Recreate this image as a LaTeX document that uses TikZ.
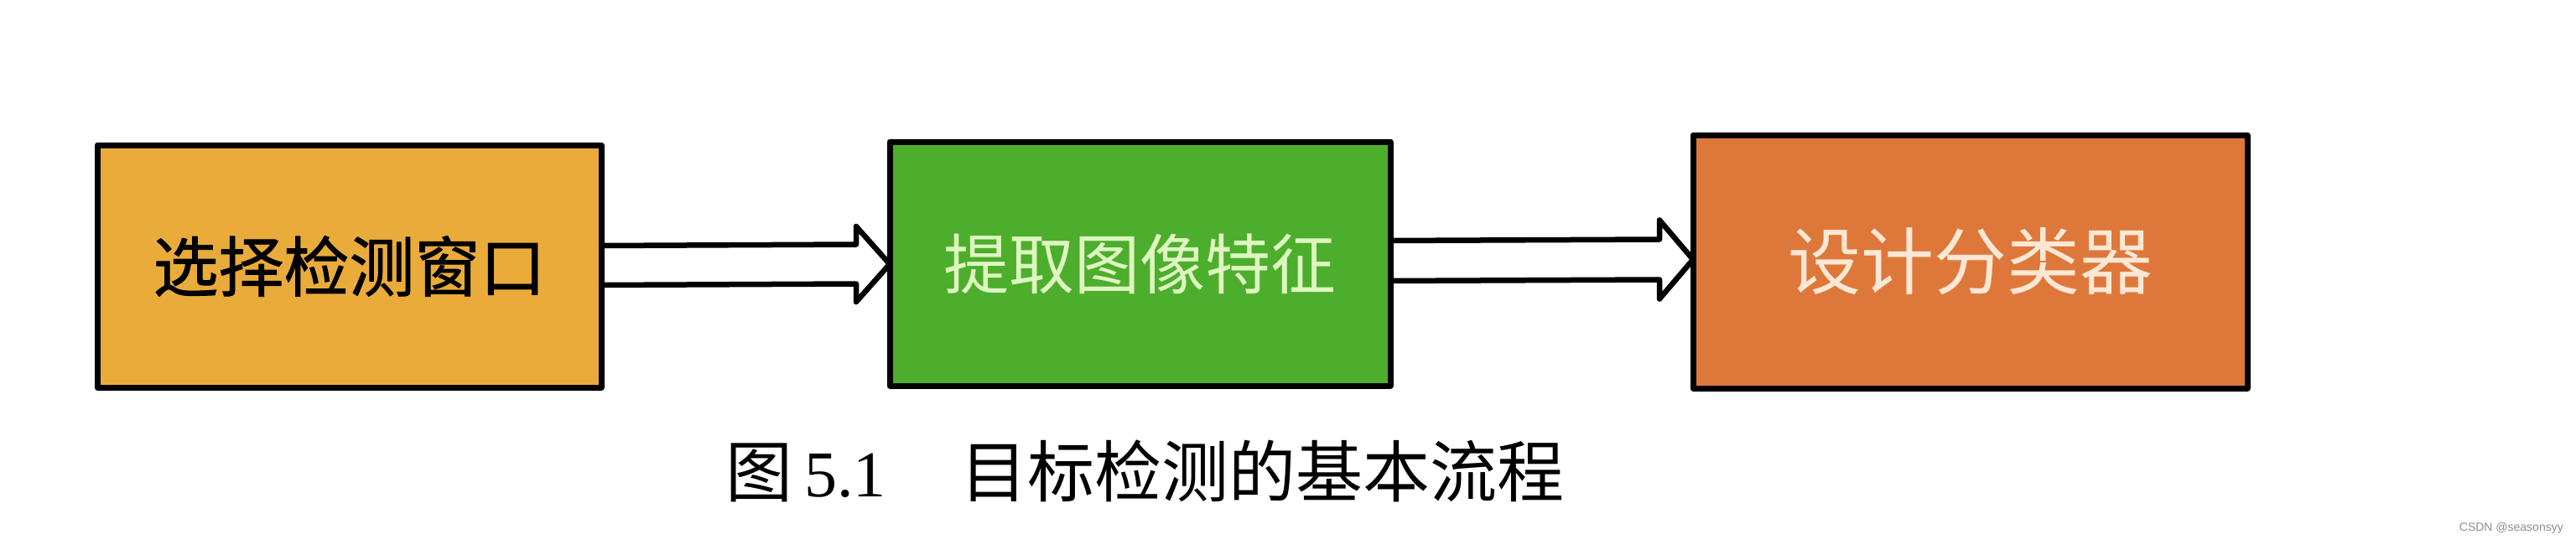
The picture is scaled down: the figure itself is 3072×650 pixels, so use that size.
\documentclass[tikz,border=0pt]{standalone}
\usepackage{fontspec}
\setmainfont{Liberation Serif}
\newfontfamily\cjk{Noto Sans CJK SC}
\newfontfamily\cjkheavy[FakeBold=1.2]{Noto Sans CJK SC}
\newfontfamily\wmfont{Liberation Sans}
\usetikzlibrary{calc}
\definecolor{boxA}{RGB}{233,171,58}
\definecolor{boxB}{RGB}{76,174,44}
\definecolor{boxC}{RGB}{222,120,58}
\definecolor{txtB}{RGB}{222,246,192}
\definecolor{txtC}{RGB}{251,232,212}
\tikzset{
  stepbox/.style={draw=black, line width=7pt, inner sep=0pt, outer sep=0pt, line join=round},
  blockarrow/.style={draw=black, line width=6.5pt, line join=round, line cap=round},
}
\begin{document}
\begin{tikzpicture}[x=1pt, y=-1pt]
\useasboundingbox (0,0) rectangle (3072,650);
% boxes
\node[stepbox, fill=boxA, minimum width=601pt, minimum height=289pt] (b1) at (416.5,317.5)
  {\cjkheavy\fontsize{78}{90}\selectfont 选择检测窗口};
\node[stepbox, fill=boxB, minimum width=597pt, minimum height=291pt, text=txtB] (b2) at (1359.5,314.5)
  {\cjk\fontsize{78}{90}\selectfont 提取图像特征};
\node[stepbox, fill=boxC, minimum width=661pt, minimum height=302pt, text=txtC] (b3) at (2349.5,312)
  {\cjk\fontsize{87}{96}\selectfont 设计分类器};
% arrow 1
\coordinate (a1s) at (b1.east |- 0,316.5);
\coordinate (a1t) at (b2.west |- 0,315);
\draw[blockarrow] ($(a1s)+(0,-23.5)$) -- ($(a1t)+(-40,-23.5)$) -- ($(a1t)+(-40,-45)$)
  -- (a1t) -- ($(a1t)+(-40,45)$) -- ($(a1t)+(-40,23.5)$) -- ($(a1s)+(0,23.5)$);
% arrow 2
\coordinate (a2s) at (b2.east |- 0,311);
\coordinate (a2t) at (b3.west |- 0,309.5);
\draw[blockarrow] ($(a2s)+(0,-24)$) -- ($(a2t)+(-40,-24)$) -- ($(a2t)+(-40,-47)$)
  -- (a2t) -- ($(a2t)+(-40,47)$) -- ($(a2t)+(-40,24)$) -- ($(a2s)+(0,24)$);
% caption
\node[anchor=base, inner sep=0pt] (cap1) at (905,592) {\cjk\fontsize{80}{90}\selectfont 图};
\node[anchor=base, inner sep=0pt] (cap2) at (1008,592) {\fontsize{78}{86}\selectfont 5.1};
\node[anchor=base, inner sep=0pt] (cap3) at (1505,592) {\cjk\fontsize{80}{90}\selectfont 目标检测的基本流程};
% watermark
\node[anchor=east, inner sep=0pt, text=black!45] (wm) at (3057,630) {\wmfont\fontsize{14}{16}\selectfont CSDN @seasonsyy};
\end{tikzpicture}
\end{document}
